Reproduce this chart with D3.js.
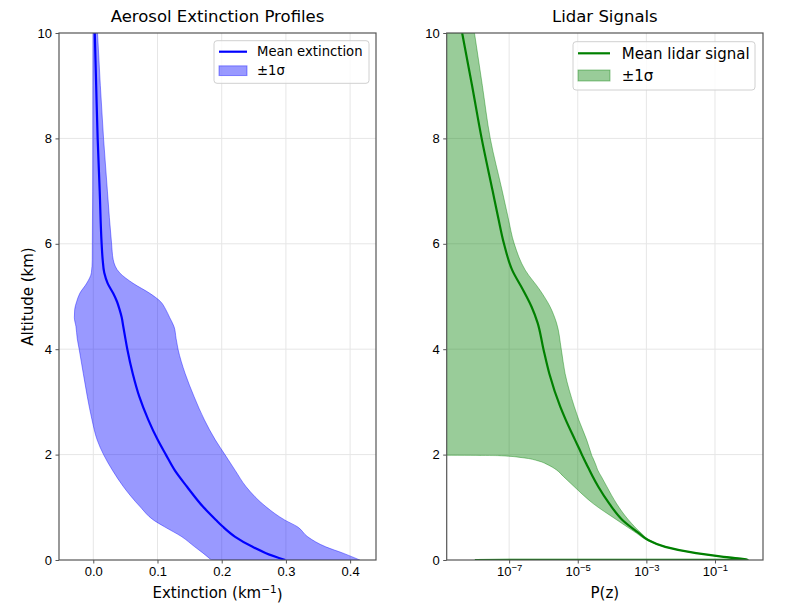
<!DOCTYPE html>
<html lang="en">
<head>
<meta charset="UTF-8">
<title>Aerosol Extinction Profiles / Lidar Signals</title>
<script src="https://d3js.org/d3.v7.min.js"></script>
<style>
  body { margin: 0; background: white; }
  svg { display: block; font-family: "DejaVu Sans", sans-serif; }
  .axis .domain { display: none; }
  .axis line { stroke: #555; }
  .axis text { fill: black; font-size: 13px; }
  .grid line { stroke: #e6e6e6; stroke-width: 1; }
</style>
</head>
<body>
<svg id="chart" width="800" height="614"></svg>
<script>
// --- extinction profile (km^-1) vs altitude (km)
const extAlt  = [10, 9, 8, 7, 6, 5.7, 5.45, 5.25, 5.06, 4.9, 4.75, 4.6, 4.43, 4.2, 4.0, 3.54, 3.1, 2.66, 2.28, 2.0, 1.7, 1.39, 1.01, 0.76, 0.63, 0.44, 0.25, 0.13, 0];
const extMean = [0.0023, 0.0045, 0.0068, 0.0100, 0.0130, 0.0146, 0.0171, 0.0224, 0.031, 0.037, 0.041, 0.0443, 0.0467, 0.050, 0.053, 0.0614, 0.0717, 0.0857, 0.1003, 0.113, 0.127, 0.146, 0.171, 0.191, 0.202, 0.221, 0.248, 0.269, 0.299];
const extLow  = [-0.0005, -0.0007, -0.0008, -0.0010, -0.0015, -0.0016, -0.003, -0.0103, -0.021, -0.026, -0.029, -0.0295, -0.027, -0.025, -0.022, -0.0156, -0.0093, -0.002, 0.006, 0.016, 0.030, 0.047, 0.073, 0.0935, 0.111, 0.138, 0.158, 0.171, 0.184];
const extHigh = [0.0066, 0.011, 0.016, 0.022, 0.0285, 0.031, 0.041, 0.062, 0.088, 0.105, 0.113, 0.119, 0.1257, 0.129, 0.132, 0.143, 0.157, 0.173, 0.190, 0.205, 0.221, 0.238, 0.269, 0.298, 0.318, 0.334, 0.362, 0.389, 0.415];

// --- lidar signal P(z) vs altitude (km)
const lidAlt  = [10, 9, 8, 7, 6.5, 6, 5.5, 5.12, 4.81, 4.5, 4.0, 3.54, 2.91, 2.66, 2.28, 2.0, 1.98, 1.94, 1.88, 1.8, 1.71, 1.58, 1.39, 1.07, 0.76, 0.51, 0.38, 0.25, 0.13, 0.06, 0.02, 0.005, 0];
const lidMean = [4.27e-9, 8.32e-9, 1.58e-8, 3.31e-8, 4.79e-8, 7.08e-8, 1.23e-7, 2.57e-7, 4.47e-7, 6.76e-7, 1.0e-6, 1.48e-6, 3.09e-6, 4.47e-6, 8.32e-6, 1.32e-5, 1.36e-5, 1.46e-5, 1.62e-5, 1.86e-5, 2.19e-5, 2.75e-5, 3.98e-5, 8.32e-5, 2.0e-4, 6.03e-4, 1.12e-3, 3.55e-3, 2.82e-2, 0.178, 0.631, 0.891, 1e-8];
const lidLow  = [1e-12, 1e-12, 1e-12, 1e-12, 1e-12, 1e-12, 1e-12, 1e-12, 1e-12, 1e-12, 1e-12, 1e-12, 1e-12, 1e-12, 1e-12, 1e-12, 5.0e-8, 2.51e-7, 7.08e-7, 1.41e-6, 2.40e-6, 3.89e-6, 7.94e-6, 2.82e-5, 1.38e-4, 5.13e-4, 1.02e-3, 3.39e-3, 2.75e-2, 0.174, 0.62, 0.87, 0.9];
const lidHigh = [9.77e-9, 1.66e-8, 2.82e-8, 6.31e-8, 9.33e-8, 1.41e-7, 2.95e-7, 7.94e-7, 1.55e-6, 2.40e-6, 3.31e-6, 4.27e-6, 7.94e-6, 1.07e-5, 1.82e-5, 2.51e-5, 2.57e-5, 2.75e-5, 3.02e-5, 3.39e-5, 3.80e-5, 4.90e-5, 7.08e-5, 1.35e-4, 3.02e-4, 7.08e-4, 1.23e-3, 3.80e-3, 2.95e-2, 0.182, 0.646, 0.912, 0.9];

const altTicks = [0, 2, 4, 6, 8, 10];
const extTicks = [0.0, 0.1, 0.2, 0.3, 0.4];
const lidTicks = [1e-7, 1e-5, 1e-3, 1e-1];

const svg = d3.select("#chart");
const plotTop = 33, plotBottom = 560;

const y = d3.scaleLinear().domain([0, 10]).range([plotBottom, plotTop]);
const xExt = d3.scaleLinear().domain([-0.0534, 0.4403]).range([59, 376]);
const xLid = d3.scaleLog().domain([Math.pow(10, -8.82), Math.pow(10, 0.40)]).range([446.7, 763]);

function panel(id, x, xTicks, opts) {
  const [x0, x1] = x.range();
  const g = svg.append("g");

  svg.append("clipPath").attr("id", id + "-clip")
    .append("rect").attr("x", x0).attr("y", plotTop).attr("width", x1 - x0).attr("height", plotBottom - plotTop);

  // grid
  const grid = g.append("g").attr("class", "grid");
  grid.selectAll(".gx").data(xTicks).join("line")
    .attr("x1", d => x(d)).attr("x2", d => x(d)).attr("y1", plotTop).attr("y2", plotBottom);
  grid.selectAll(".gy").data(altTicks.slice(1, -1)).join("line")
    .attr("x1", x0).attr("x2", x1).attr("y1", d => y(d)).attr("y2", d => y(d));

  const plot = g.append("g").attr("clip-path", `url(#${id}-clip)`);
  const rows = opts.alt.map((a, i) => ({ a, lo: opts.low[i], hi: opts.high[i] }));
  plot.append("path")
    .datum(rows)
    .attr("fill", opts.color).attr("fill-opacity", 0.4)
    .attr("stroke", opts.color).attr("stroke-opacity", 0.4).attr("stroke-width", 1)
    .attr("d", d3.area().curve(d3.curveMonotoneY)
      .y(d => y(d.a)).x0(d => x(d.lo)).x1(d => x(d.hi)));

  const meanRows = opts.alt.map((a, i) => ({ a, v: opts.mean[i] }));
  plot.append("path")
    .datum(meanRows)
    .attr("fill", "none").attr("stroke", opts.color).attr("stroke-width", 2.2)
    .attr("d", d3.line().curve(d3.curveMonotoneY).y(d => y(d.a)).x(d => x(d.v)));

  // spines
  g.append("rect").attr("x", x0).attr("y", plotTop).attr("width", x1 - x0).attr("height", plotBottom - plotTop)
    .attr("fill", "none").attr("stroke", "#555").attr("stroke-width", 1.2);

  // axes
  const ax = g.append("g").attr("class", "axis").attr("transform", `translate(0,${plotBottom})`)
    .call(d3.axisBottom(x).tickValues(xTicks).tickSize(3.5).tickPadding(3.5).tickFormat(opts.fmt));
  if (opts.log) {
    ax.selectAll(".tick text").each(function (d) {
      const t = d3.select(this);
      t.text("10");
      t.append("tspan").attr("dy", "-0.5em").style("font-size", "9.5px")
        .text("\u2212" + Math.round(-Math.log10(d)));
    });
  }
  g.append("g").attr("class", "axis").attr("transform", `translate(${x0},0)`)
    .call(d3.axisLeft(y).tickValues(altTicks).tickSize(3.5).tickPadding(3.5).tickFormat(d3.format("d")));

  g.append("text").attr("x", (x0 + x1) / 2).attr("y", 22)
    .attr("text-anchor", "middle").style("font-size", "16.5px").text(opts.title);

  const xl = g.append("text").attr("x", (x0 + x1) / 2).attr("y", 598)
    .attr("text-anchor", "middle").style("font-size", "15px").text(opts.xlabel);
  if (opts.xsup) {
    xl.append("tspan").attr("dy", "-0.45em").style("font-size", "10.5px").text(opts.xsup);
    xl.append("tspan").attr("dy", "0.45em").text(")");
  }

  // legend
  const L = opts.legend;
  const lg = g.append("g");
  lg.append("rect").attr("x", L.x).attr("y", L.y).attr("width", L.w).attr("height", L.h)
    .attr("rx", 3).attr("fill", "white").attr("fill-opacity", 0.8)
    .attr("stroke", "#d0d0d0");
  lg.append("line").attr("x1", L.x + 5).attr("x2", L.x + 5 + L.key)
    .attr("y1", L.y + L.row1).attr("y2", L.y + L.row1)
    .attr("stroke", opts.color).attr("stroke-width", 2.2);
  lg.append("rect").attr("x", L.x + 5).attr("y", L.y + L.row2 - L.ph / 2)
    .attr("width", L.key).attr("height", L.ph)
    .attr("fill", opts.color).attr("fill-opacity", 0.4)
    .attr("stroke", opts.color).attr("stroke-opacity", 0.4);
  lg.append("text").attr("x", L.x + L.tx).attr("y", L.y + L.row1).attr("dy", "0.35em")
    .style("font-size", L.fs + "px").text(opts.labels[0]);
  lg.append("text").attr("x", L.x + L.tx).attr("y", L.y + L.row2).attr("dy", "0.35em")
    .style("font-size", L.fs + "px").text(opts.labels[1]);

  return g;
}

panel("ext", xExt, extTicks, {
  alt: extAlt, mean: extMean, low: extLow, high: extHigh,
  color: "#0000ff",
  fmt: d3.format(".1f"),
  title: "Aerosol Extinction Profiles",
  xlabel: "Extinction (km", xsup: "\u22121",
  labels: ["Mean extinction", "\u00b11\u03c3"],
  legend: { x: 214, y: 40.7, w: 155, h: 42.6, key: 28, row1: 11, row2: 30, ph: 9.7, tx: 43, fs: 13.2 }
});

// the ylabel only on the left panel
svg.append("text")
  .attr("transform", `translate(33,${(plotTop + plotBottom) / 2}) rotate(-90)`)
  .attr("text-anchor", "middle").style("font-size", "15px").text("Altitude (km)");

panel("lid", xLid, lidTicks, {
  alt: lidAlt, mean: lidMean, low: lidLow, high: lidHigh,
  color: "#008000", log: true,
  fmt: () => "10",
  title: "Lidar Signals",
  xlabel: "P(z)",
  labels: ["Mean lidar signal", "\u00b11\u03c3"],
  legend: { x: 573, y: 41.7, w: 182, h: 48.3, key: 32, row1: 11.6, row2: 33.8, ph: 11, tx: 48.7, fs: 15 }
});
</script>
</body>
</html>
